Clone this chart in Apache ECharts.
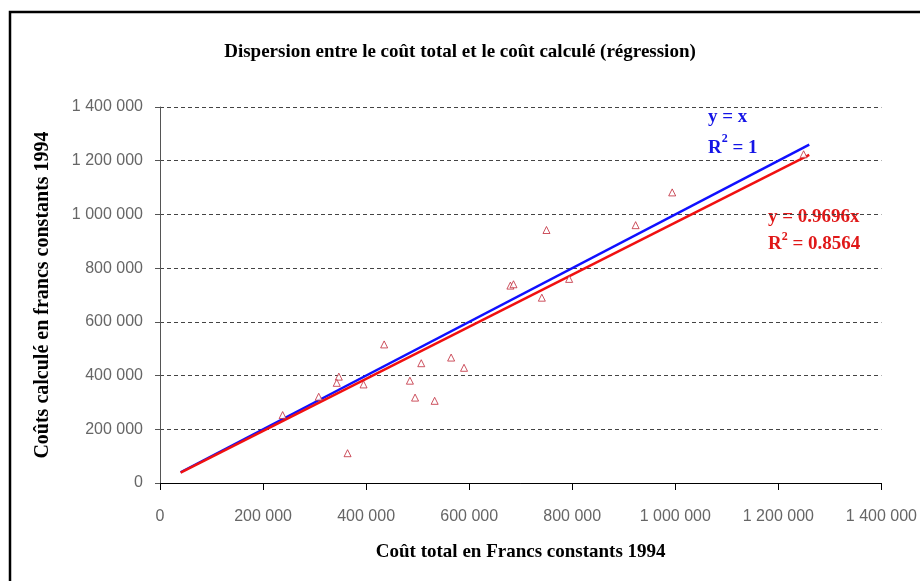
<!DOCTYPE html>
<html>
<head>
<meta charset="utf-8">
<title>Dispersion</title>
<script src="https://cdn.jsdelivr.net/npm/echarts@6/dist/echarts.min.js"></script>
<style>
  html, body { margin: 0; padding: 0; background: #fff; }
  #chart { width: 920px; height: 581px; }
</style>
</head>
<body>
<div id="chart"></div>
<script>
// coût total (x) et coût calculé (y)
const coutTotal = [238000, 308000, 347000, 343000, 395000, 435000, 364000, 485000, 495000, 507000, 533000,
  565000, 590000, 680000, 686000, 750000, 741000, 794000, 923000, 994000, 1249000];
const coutCalcule = [253000, 321000, 396000, 373000, 367000, 516000, 111000, 381000, 318000, 446000, 306000,
  467000, 429000, 735000, 740000, 942000, 690000, 760000, 960000, 1082000, 1224000];

// extrémités des droites
const droiteX = [40000, 1260000];
const identiteY = [40000, 1260000];      // y = x
const regressionY = [38800, 1221700];    // y = 0.9696x

const axisTicks = [0, 200000, 400000, 600000, 800000, 1000000, 1200000, 1400000];

const serif = '"Liberation Serif", "DejaVu Serif", serif';
const sans = '"Liberation Sans", Arial, sans-serif';

const fmt = v => String(v).replace(/\B(?=(\d{3})+(?!\d))/g, ' ');

const myChart = echarts.init(document.getElementById('chart'));

const option = {
  animation: false,
  backgroundColor: '#fff',
  title: {
    text: 'Dispersion entre le coût total et le coût calculé (régression)',
    left: 'center',
    top: 38,
    textStyle: { fontFamily: serif, fontWeight: 'bold', fontSize: 19, color: '#000' }
  },
  grid: { left: 160, right: 37, top: 107, bottom: 98, containLabel: false },
  xAxis: {
    type: 'value',
    min: axisTicks[0],
    max: axisTicks[axisTicks.length - 1],
    interval: 200000,
    name: 'Coût total en Francs constants 1994',
    nameLocation: 'middle',
    nameGap: 60,
    nameTextStyle: { fontFamily: serif, fontWeight: 'bold', fontSize: 19, color: '#000' },
    axisLine: { lineStyle: { color: '#000', width: 1 } },
    axisTick: { show: true, length: 7, lineStyle: { color: '#000' } },
    axisLabel: { formatter: fmt, fontFamily: sans, fontSize: 16, color: '#666', margin: 26 },
    splitLine: { show: false }
  },
  yAxis: {
    type: 'value',
    min: axisTicks[0],
    max: axisTicks[axisTicks.length - 1],
    interval: 200000,
    name: 'Coûts calculé en francs constants 1994',
    nameLocation: 'middle',
    nameGap: 107,
    nameTextStyle: { fontFamily: serif, fontWeight: 'bold', fontSize: 20, color: '#000' },
    axisLine: { show: true, lineStyle: { color: '#555', width: 1 } },
    axisTick: { show: true, length: 5, lineStyle: { color: '#555' } },
    axisLabel: { formatter: fmt, fontFamily: sans, fontSize: 16, color: '#666', margin: 17 },
    splitLine: { show: true, lineStyle: { type: [4, 3], color: '#444', width: 1 } }
  },
  graphic: [
    {
      type: 'rect', z: -10, silent: true,
      shape: { x: 10, y: 12, width: 1000, height: 1000 },
      style: { fill: 'none', stroke: '#000', lineWidth: 2.5 }
    },
    {
      type: 'text', z: -10, left: 708, top: 108,
      style: {
        text: '{a|y = x}\n{a|R}{s|2}{a| = 1}',
        align: 'center',
        rich: {
          a: { fontFamily: serif, fontWeight: 'bold', fontSize: 19, fill: '#1414e6', lineHeight: 31 },
          s: { fontFamily: serif, fontWeight: 'bold', fontSize: 12, fill: '#1414e6', verticalAlign: 'top', lineHeight: 31 }
        }
      }
    },
    {
      type: 'text', z: -10, left: 768, top: 208,
      style: {
        text: '{a|y = 0.9696x}\n{a|R}{s|2}{a| = 0.8564}',
        align: 'center',
        rich: {
          a: { fontFamily: serif, fontWeight: 'bold', fontSize: 19, fill: '#e01818', lineHeight: 27 },
          s: { fontFamily: serif, fontWeight: 'bold', fontSize: 12, fill: '#e01818', verticalAlign: 'top', lineHeight: 27 }
        }
      }
    }
  ],
  series: [
    {
      name: 'y = x',
      type: 'line',
      data: droiteX.map((x, i) => [x, identiteY[i]]),
      symbol: 'none',
      lineStyle: { color: '#1010ff', width: 2.5 },
      z: 3
    },
    {
      name: 'régression',
      type: 'line',
      data: droiteX.map((x, i) => [x, regressionY[i]]),
      symbol: 'none',
      lineStyle: { color: '#f01010', width: 2.5 },
      z: 4
    },
    {
      name: 'coûts',
      type: 'scatter',
      data: coutTotal.map((x, i) => [x, coutCalcule[i]]),
      symbol: 'triangle',
      symbolSize: 7,
      itemStyle: { color: '#fff', borderColor: '#c02838', borderWidth: 1 },
      z: 5
    }
  ]
};

myChart.setOption(option);
</script>
</body>
</html>
